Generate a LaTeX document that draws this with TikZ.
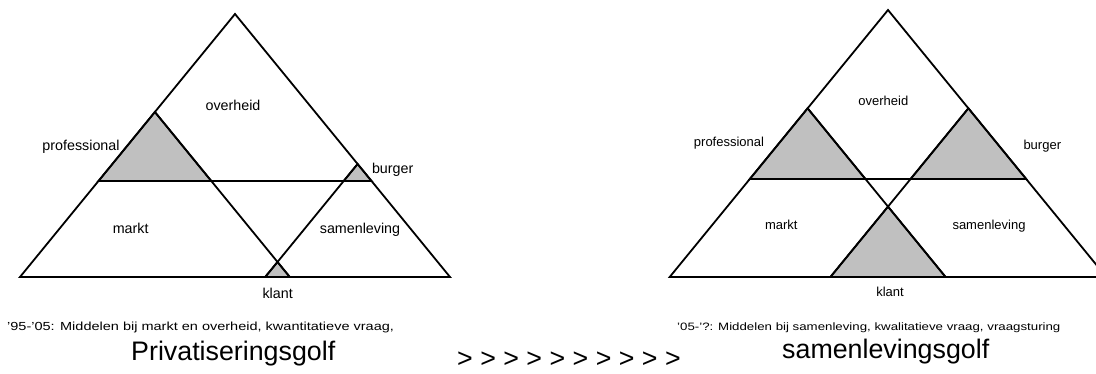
\documentclass[tikz,border=0pt]{standalone}
\usepackage{fontspec}
\setmainfont{Liberation Sans}
\definecolor{shadegray}{HTML}{C0C0C0}
\tikzset{
  triline/.style={draw=black, line width=1.8pt, line join=miter},
  grayarea/.style={fill=shadegray, draw=black, line width=1.8pt, line join=miter},
  bandline/.style={draw=black, line width=1.3pt},
  lbl/.style={inner sep=0pt, anchor=base, font=\fontsize{14.3}{17}\selectfont},
  rlbl/.style={inner sep=0pt, anchor=base, font=\fontsize{13}{16}\selectfont},
  captxt/.style={inner sep=0pt, anchor=base west},
  bigtxt/.style={inner sep=0pt, anchor=base west, font=\fontsize{26.8}{30}\selectfont}
}
\begin{document}
\begin{tikzpicture}[x=1pt,y=-1pt]
\useasboundingbox (0,0) rectangle (1096,374);
\clip (0,0) rectangle (1096,374);
\fill[white] (0,0) rectangle (1096,374);
% ---------- left triangle ----------
\coordinate (LA) at (235,14);
\coordinate (LBL) at (20,277);
\coordinate (LBR) at (450,277);
\coordinate (LHl) at (98.5,181);
\coordinate (LHr) at (371.5,181);
\coordinate (LPa) at (154.9,112);
\coordinate (LPb) at (211.3,181);
\coordinate (LPc) at (289.8,277);
\coordinate (LBa) at (357.6,164);
\coordinate (LBb) at (343.7,181);
\coordinate (LBc) at (265.2,277);
\coordinate (LK) at (277.5,262);
\path[grayarea] (LPa) -- (LHl) -- (LPb) -- cycle;
\path[grayarea] (LBa) -- (LBb) -- (LHr) -- cycle;
\path[grayarea] (LK) -- (LBc) -- (LPc) -- cycle;
\draw[bandline] (LHl) -- (LHr);
\draw[triline] (LPa) -- (LPc);
\draw[triline] (LBa) -- (LBc);
\draw[triline] (LA) -- (LBL) -- (LBR) -- cycle;
\node[lbl] (lov) at (233,110.7) {overheid};
\node[lbl] (lpr) at (81,150.7) {professional};
\node[lbl] (lbu) at (392.7,174) {burger};
\node[lbl] (lma) at (130.7,233.3) {markt};
\node[lbl] (lsa) at (360,233.3) {samenleving};
\node[lbl] (lkl) at (277.7,299) {klant};
% ---------- right triangle ----------
\coordinate (RA) at (888,10);
\coordinate (RBL) at (669.7,277);
\coordinate (RBR) at (1106.3,277);
\coordinate (RHl) at (749.8,179);
\coordinate (RHr) at (1026.2,179);
\coordinate (RPa) at (807.6,108.3);
\coordinate (RPb) at (865.4,179);
\coordinate (RPc) at (945.6,277);
\coordinate (RBa) at (968.4,108.3);
\coordinate (RBb) at (910.6,179);
\coordinate (RBc) at (830.4,277);
\coordinate (RK) at (888,206.6);
\path[grayarea] (RPa) -- (RHl) -- (RPb) -- cycle;
\path[grayarea] (RBa) -- (RBb) -- (RHr) -- cycle;
\path[grayarea] (RK) -- (RBc) -- (RPc) -- cycle;
\draw[bandline] (RHl) -- (RHr);
\draw[triline] (RPa) -- (RPc);
\draw[triline] (RBa) -- (RBc);
\draw[triline] (RA) -- (RBL) -- (RBR) -- cycle;
\node[rlbl] (rov) at (883.3,106) {overheid};
\node[rlbl] (rpr) at (729,146.7) {professional};
\node[rlbl] (rbu) at (1042.3,150) {burger};
\node[rlbl] (rma) at (781.3,230) {markt};
\node[rlbl] (rsa) at (989,230) {samenleving};
\node[rlbl] (rkl) at (890,296.7) {klant};
% ---------- captions ----------
\node[captxt] (c1) at (7,330.7) {\scalebox{1.24}[1]{\fontsize{11.7}{14}\selectfont '95-'05: Middelen bij markt en overheid, kwantitatieve vraag,}};
\node[captxt] (c2) at (677,330.7) {\scalebox{1.24}[1]{\fontsize{10.7}{13}\selectfont '05-'?: Middelen bij samenleving, kwalitatieve vraag, vraagsturing}};
\node[bigtxt] (t1) at (131,360) {Privatiseringsgolf};
\node[bigtxt] (t2) at (457,367) {> > > > > > > > > >};
\node[bigtxt] (t3) at (782,359) {samenlevingsgolf};
\end{tikzpicture}
\end{document}
